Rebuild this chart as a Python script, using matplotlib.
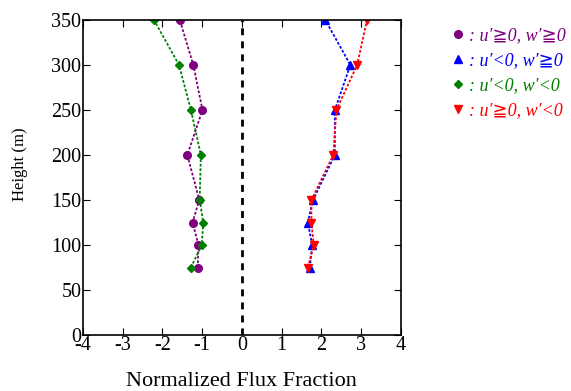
import matplotlib
matplotlib.use('Agg')
import matplotlib.pyplot as plt
from matplotlib.lines import Line2D

# 数据
heights = [75, 100, 125, 150, 200, 250, 300, 350]
purple_vals = [-1.11, -1.09, -1.24, -1.07, -1.37, -0.99, -1.22, -1.56]
blue_vals = [1.71, 1.77, 1.66, 1.79, 2.34, 2.34, 2.73, 2.10]
green_vals = [-1.28, -1.01, -0.97, -1.06, -1.03, -1.28, -1.58, -2.21]
red_vals = [1.66, 1.81, 1.75, 1.75, 2.30, 2.38, 2.90, 3.15]

labels = [": u′≧0, w′≧0",
          ": u′<0, w′≧0",
          ": u′<0, w′<0",
          ": u′≧0, w′<0"]
colors = ['purple', 'blue', 'green', 'red']
markers = ['o', '^', 'D', 'v']
msizes = [5.5, 5.5, 4, 5.5]

plt.rcParams['font.family'] = ['Liberation Serif', 'DejaVu Serif', 'DejaVu Sans']
plt.rcParams['axes.unicode_minus'] = False

fig = plt.figure(figsize=(5.71, 3.91), dpi=100)
ax = fig.add_axes([0.145, 0.143, 0.557, 0.806])

series = [purple_vals, blue_vals, green_vals, red_vals]
for vals, c, m, ms in zip(series, colors, markers, msizes):
    ax.plot(vals, heights, linestyle=(0, (1.5, 1)), color=c, linewidth=1.3,
            marker=m, markersize=ms, markeredgecolor=c, markerfacecolor=c)

ax.axvline(0, color='black', linestyle=(0, (2.5, 2.2)), linewidth=2)

ax.set_xlim(-4, 4)
ax.set_ylim(0, 350)
ax.set_xticks(range(-4, 5))
ax.set_yticks(range(0, 351, 50))
ax.tick_params(direction='in', top=True, right=True, labelsize=14.5, length=5, pad=1)
for s in ax.spines.values():
    s.set_linewidth(1.2)

ax.set_xlabel('Normalized Flux Fraction', fontsize=16, labelpad=12)
ax.set_ylabel('Height (m)', fontsize=12)
ax.yaxis.set_label_coords(-0.173, 0.543)

handles = [Line2D([], [], linestyle='none', marker=m, color=c, markersize=ms)
           for c, m, ms in zip(colors, markers, msizes)]
leg = fig.legend(handles, labels, loc='upper left', bbox_to_anchor=(0.765, 0.972),
                 frameon=False, fontsize=13, handlelength=0.6, handletextpad=0.3,
                 labelspacing=0.45)
for t, c in zip(leg.get_texts(), colors):
    t.set_color(c)
    t.set_fontstyle('italic')
    t.set_family(['Liberation Serif', 'DejaVu Sans', 'Noto Sans'])

plt.savefig('out.png', dpi=100)
plt.close()
